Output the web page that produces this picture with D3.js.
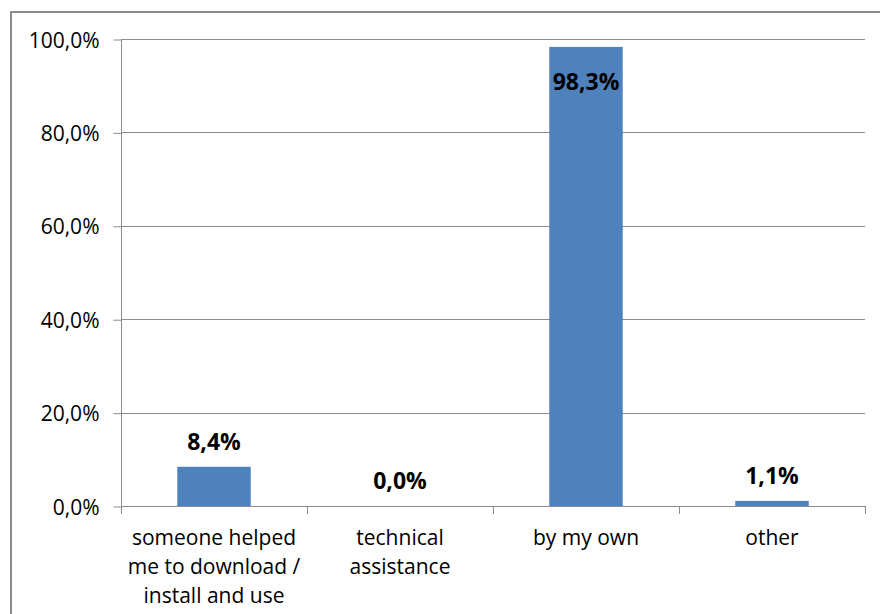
<!DOCTYPE html>
<html>
<head>
<meta charset="utf-8">
<script src="https://cdn.jsdelivr.net/npm/d3@7"></script>
<style>
  html, body { margin: 0; padding: 0; background: #fff; }
  svg { display: block; }
  text { font-family: "Open Sans", "Liberation Sans", sans-serif; fill: #000; }
</style>
</head>
<body>
<svg id="chart" width="880" height="614"></svg>
<script>
// How the app was set up: share of respondents per answer
const categories = [
  ["someone helped", "me to download /", "install and use"],
  ["technical", "assistance"],
  ["by my own"],
  ["other"]
];
const values = [8.4, 0.0, 98.3, 1.1];
const yTicks = [0, 20, 40, 60, 80, 100];

const fmt = v => v.toFixed(1).replace(".", ",") + "%";

const svg = d3.select("#chart");
const margin = { left: 121, right: 15, top: 39, bottom: 108 };
const W = 880, H = 614;
const x0 = margin.left, x1 = W - margin.right;
const y0 = H - margin.bottom, y1 = margin.top;

// outer chart frame
svg.append("rect")
  .attr("x", 11).attr("y", 12)
  .attr("width", W + 10).attr("height", H + 10)
  .attr("fill", "none").attr("stroke", "#8c8c8c").attr("stroke-width", 2);

const x = d3.scaleBand().domain(d3.range(categories.length)).range([x0, x1]).paddingInner(0).paddingOuter(0);
const y = d3.scaleLinear().domain([0, 100]).range([y0, y1]);

// horizontal gridlines
svg.append("g").selectAll("line").data(yTicks.filter(d => d > 0)).join("line")
  .attr("x1", x0).attr("x2", x1)
  .attr("y1", d => Math.round(y(d)) + 0.5).attr("y2", d => Math.round(y(d)) + 0.5)
  .attr("stroke", "#8c8c8c").attr("stroke-width", 1);

// y axis
const yAxis = d3.axisLeft(y).tickValues(yTicks).tickFormat(fmt).tickSize(8).tickPadding(14);
const gy = svg.append("g").attr("transform", `translate(${x0 + 0.5},0.5)`).call(yAxis);
gy.select(".domain").attr("stroke", "#8c8c8c").attr("d", `M0,${y1}V${y0}`);
gy.selectAll(".tick line").attr("stroke", "#8c8c8c");
gy.selectAll(".tick text").attr("font-size", 21).attr("fill", "#000")
  .attr("dy", "0.36em")
  .style("font-family", "'Open Sans', sans-serif");

// x axis line and category separators
svg.append("line").attr("x1", x0).attr("x2", x1 + 0.5)
  .attr("y1", y0 + 0.5).attr("y2", y0 + 0.5).attr("stroke", "#8c8c8c");
const seps = d3.range(categories.length + 1).map(i => x0 + i * x.bandwidth());
svg.append("g").selectAll("line").data(seps).join("line")
  .attr("x1", d => Math.round(d) + 0.5).attr("x2", d => Math.round(d) + 0.5)
  .attr("y1", y0).attr("y2", y0 + 8).attr("stroke", "#8c8c8c");

// bars
const barW = x.bandwidth() * 0.395;
svg.append("g").selectAll("rect").data(values).join("rect")
  .attr("x", (d, i) => x(i) + (x.bandwidth() - barW) / 2)
  .attr("width", barW)
  .attr("y", d => y(d))
  .attr("height", d => y0 - y(d))
  .attr("fill", "#4f81bd");

// value labels: inside the bar when it reaches the top, otherwise above it
svg.append("g").selectAll("text").data(values).join("text")
  .attr("x", (d, i) => x(i) + x.bandwidth() / 2)
  .attr("y", d => d > 90 ? y(d) + 43 : y(d) - 17)
  .attr("text-anchor", "middle")
  .attr("font-size", 23).attr("font-weight", "bold")
  .text(fmt);

// category labels
const cat = svg.append("g").selectAll("text").data(categories).join("text")
  .attr("x", (d, i) => x(i) + x.bandwidth() / 2)
  .attr("y", 545)
  .attr("text-anchor", "middle")
  .attr("font-size", 21);
cat.selectAll("tspan").data(d => d).join("tspan")
  .attr("x", function () { return this.parentNode.getAttribute("x"); })
  .attr("dy", (d, i) => i === 0 ? 0 : 29)
  .text(d => d);
</script>
</body>
</html>
